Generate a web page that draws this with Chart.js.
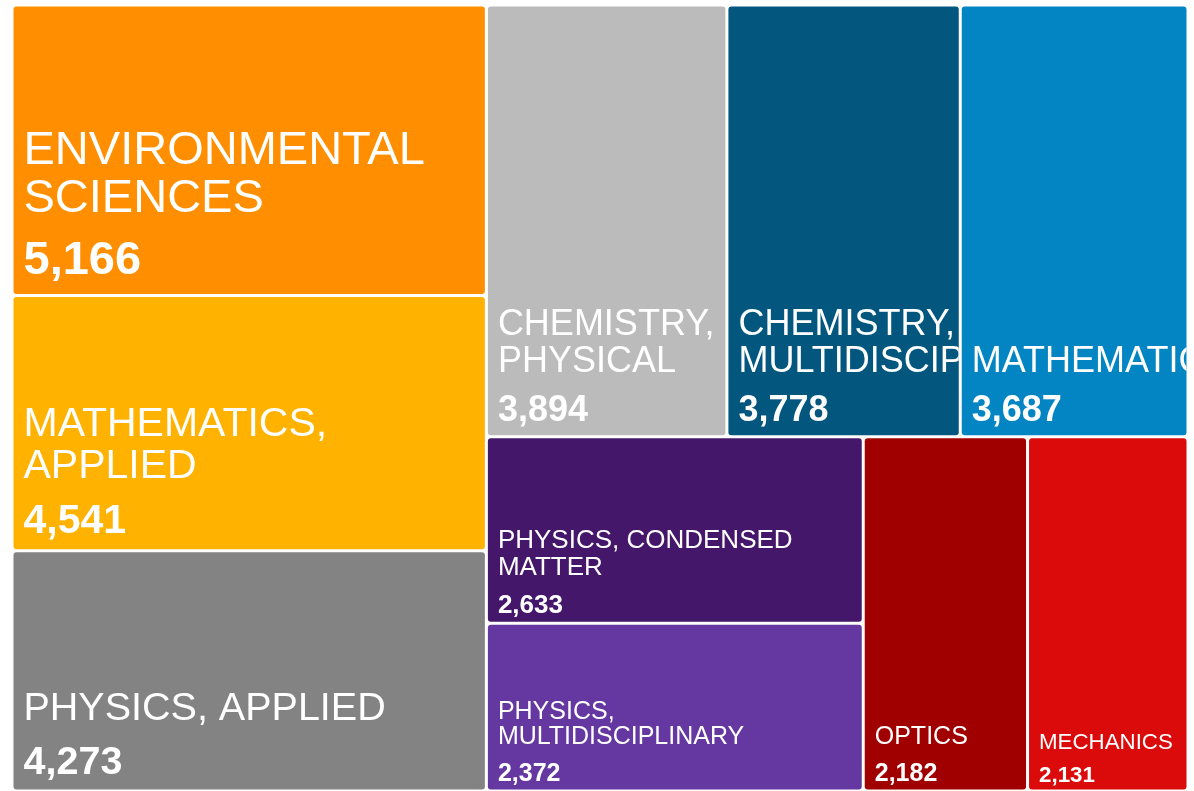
<!DOCTYPE html>
<html>
<head>
<meta charset="utf-8">
<script src="https://cdn.jsdelivr.net/npm/chart.js@4.4.1/dist/chart.umd.min.js"></script>
<style>
html, body { margin: 0; padding: 0; background: #fff; overflow: hidden; }
#wrap { position: relative; width: 1194px; height: 791px; }
</style>
</head>
<body>
<div id="wrap"><canvas id="treemapChart"></canvas></div>
<script>
// subject categories and record counts (sorted, largest first)
const categories = [
    'ENVIRONMENTAL SCIENCES',
    'MATHEMATICS, APPLIED',
    'PHYSICS, APPLIED',
    'CHEMISTRY, PHYSICAL',
    'CHEMISTRY, MULTIDISCIPLINARY',
    'MATHEMATICS',
    'PHYSICS, CONDENSED MATTER',
    'PHYSICS, MULTIDISCIPLINARY',
    'OPTICS',
    'MECHANICS'
];
const counts = [5166, 4541, 4273, 3894, 3778, 3687, 2633, 2372, 2182, 2131];

// styling
const cellColors = [
    '#FF8F00', '#FFB300', '#838383', '#BBBBBB', '#03567E',
    '#0385C3', '#45176A', '#6437A1', '#A00000', '#DC0B0B'
];
const labelSizes = [47, 41, 39.5, 36, 36, 36, 26, 25, 25, 22.3];
const GAP = 3;
const PAD = 10;
const FONT = '"Liberation Sans", Arial, sans-serif';

// squarified layout (golden ratio target, same approach as d3.treemapSquarify)
function squarify(values, x0, y0, x1, y1) {
    const ratio = (1 + Math.sqrt(5)) / 2;
    const out = [];
    const n = values.length;
    let value = values.reduce((a, b) => a + b, 0);
    let i0 = 0, i1 = 0;
    while (i0 < n) {
        const dx = x1 - x0, dy = y1 - y0;
        let sum = values[i1++];
        let minV = sum, maxV = sum;
        const alpha = Math.max(dy / dx, dx / dy) / (value * ratio);
        let beta = sum * sum * alpha;
        let minRatio = Math.max(maxV / beta, beta / minV);
        for (; i1 < n; i1++) {
            const v = values[i1];
            sum += v;
            if (v < minV) minV = v;
            if (v > maxV) maxV = v;
            beta = sum * sum * alpha;
            const r = Math.max(maxV / beta, beta / minV);
            if (r > minRatio) { sum -= v; break; }
            minRatio = r;
        }
        if (dx < dy) {
            const yEnd = i1 >= n ? y1 : y0 + dy * sum / value;
            let x = x0;
            for (let k = i0; k < i1; k++) {
                const w = dx * values[k] / sum;
                out[k] = { x0: x, y0: y0, x1: x + w, y1: yEnd };
                x += w;
            }
            y0 = yEnd;
        } else {
            const xEnd = i1 >= n ? x1 : x0 + dx * sum / value;
            let y = y0;
            for (let k = i0; k < i1; k++) {
                const h = dy * values[k] / sum;
                out[k] = { x0: x0, y0: y, x1: xEnd, y1: y + h };
                y += h;
            }
            x0 = xEnd;
        }
        value -= sum;
        i0 = i1;
    }
    return out;
}

function wrapWords(ctx, text, maxWidth) {
    const words = text.split(' ');
    const lines = [];
    let line = '';
    words.forEach(word => {
        const test = line ? line + ' ' + word : word;
        if (line && ctx.measureText(test).width > maxWidth) {
            lines.push(line);
            line = word;
        } else {
            line = test;
        }
    });
    if (line) lines.push(line);
    return lines;
}

const treemapPlugin = {
    id: 'treemapCells',
    afterDatasetsDraw(chart) {
        const { ctx, chartArea, scales } = chart;
        const aspect = chartArea.width / chartArea.height;
        const cells = squarify(counts, 0, 0, aspect, 1);

        cells.forEach((c, i) => {
            const left = scales.x.getPixelForValue(c.x0 / aspect) + GAP / 2;
            const right = scales.x.getPixelForValue(c.x1 / aspect) - GAP / 2;
            const top = scales.y.getPixelForValue(c.y0) + GAP / 2;
            const bottom = scales.y.getPixelForValue(c.y1) - GAP / 2;
            const w = right - left, h = bottom - top;

            ctx.save();
            ctx.beginPath();
            if (ctx.roundRect) ctx.roundRect(left, top, w, h, 3);
            else ctx.rect(left, top, w, h);
            ctx.fillStyle = cellColors[i];
            ctx.fill();
            ctx.clip();

            const size = labelSizes[i];
            ctx.fillStyle = '#FFFFFF';
            ctx.textAlign = 'left';
            ctx.textBaseline = 'alphabetic';

            const valueY = bottom - (0.5 * size - 4);
            ctx.font = 'bold ' + size + 'px ' + FONT;
            ctx.fillText(counts[i].toLocaleString('en-US'), left + PAD, valueY);

            ctx.font = size + 'px ' + FONT;
            const lines = wrapWords(ctx, categories[i], w - 2 * PAD);
            let y = valueY - (1.15 * size + 8);
            for (let k = lines.length - 1; k >= 0; k--) {
                ctx.fillText(lines[k], left + PAD, y);
                y -= 1.02 * size;
            }
            ctx.restore();
        });
    }
};

const chart = new Chart(document.getElementById('treemapChart').getContext('2d'), {
    type: 'scatter',
    data: {
        datasets: [{ data: [] }]
    },
    options: {
        responsive: true,
        maintainAspectRatio: false,
        animation: false,
        layout: {
            padding: { left: 12, right: 6, top: 5, bottom: 0 }
        },
        plugins: {
            legend: { display: false },
            tooltip: { enabled: false }
        },
        scales: {
            x: { type: 'linear', min: 0, max: 1, display: false },
            y: { type: 'linear', min: 0, max: 1, reverse: true, display: false }
        }
    },
    plugins: [treemapPlugin]
});
</script>
</body>
</html>
